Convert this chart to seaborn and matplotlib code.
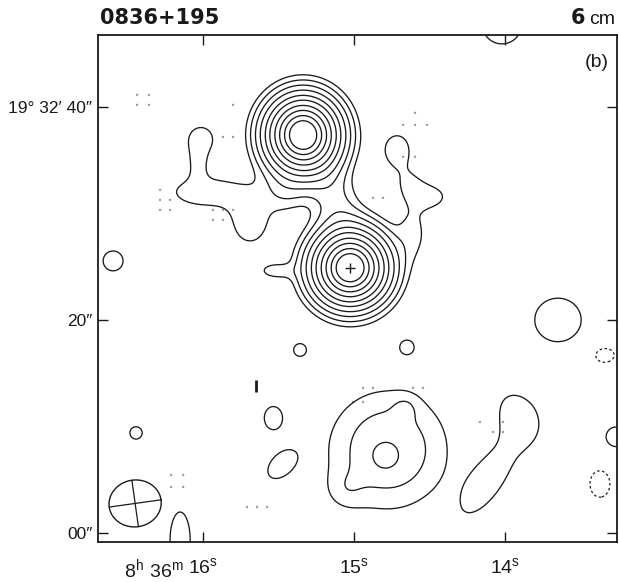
import numpy as np
import matplotlib
matplotlib.use("Agg")
import matplotlib.pyplot as plt
import seaborn as sns

# --- 6 cm map of 0836+195: Gaussian source components (RA s, Dec arcsec) ---
comp_ra = [15.338, 15.026, 15.132,
           16.013, 16.033, 15.987, 15.689, 15.457,
           14.715, 14.629, 14.483, 14.609, 15.523,
           16.596, 16.444, 15.536, 15.483,
           14.775, 14.795, 14.662, 15.060,
           13.914, 14.099, 13.649, 13.344, 13.265, 13.371,
           14.020, 16.152, 15.358, 14.649]
comp_dec = [37.37, 24.88, 31.27,
            37.00, 34.84, 32.00, 29.20, 32.00,
            35.96, 32.68, 31.55, 28.26, 24.60,
            25.54, 9.39, 10.80, 6.38,
            7.79, 7.14, 11.74, 4.04,
            11.08, 5.16, 20.00, 16.71, 9.01, 4.60,
            47.75, -0.66, 17.18, 17.46]
comp_amp = [100.0, 100.0, 5.5,
            4.0, 3.2, 4.0, 4.0, 3.5,
            3.8, 2.5, 3.3, 3.3, 3.5,
            4.0, 4.0, 4.0, 4.0,
            7.35, 3.0, 2.0, 2.0,
            3.6, 3.7, 4.0, -4.0, 4.0, -4.0,
            4.0, 4.0, 3.8, 3.8]
comp_sx = [2.00, 2.05, 3.0,
           1.15, 0.70, 3.0, 1.6, 1.4,
           1.3, 1.2, 1.4, 1.1, 1.2,
           1.05, 0.65, 0.9, 1.6,
           3.9, 1.0, 0.8, 1.3,
           2.3, 4.0, 2.45, 1.15, 1.05, 1.05,
           2.07, 1.06, 0.7, 0.7]
comp_sy = [2.10, 2.05, 1.5,
           1.15, 1.2, 1.3, 2.0, 1.4,
           1.6, 1.2, 1.0, 2.0, 0.6,
           1.05, 0.65, 1.15, 1.0,
           3.9, 1.0, 0.8, 1.3,
           1.6, 1.5, 2.3, 0.85, 1.05, 1.4,
           2.07, 2.96, 0.7, 0.7]
comp_pa = [0, 0, -70.5,
           0, 0, 0, 0, 0,
           0, 0, 0, 0, 0,
           0, 0, 0, 45,
           0, 0, 0, 0,
           -60, 57, 0, 0, 0, 0,
           0, 0, 0, 0]

# contour levels (mJy/beam)
pos_levels = [2.7, 4.9, 8.4, 13.5, 21, 30, 42, 55, 69, 82]
neg_levels = [-2.7]

# restoring beam (arcsec, deg) and its position
beam_ra, beam_dec = 16.450, 2.77
beam_major, beam_minor, beam_pa = 2.45, 2.2, 8.0

# grid-point markers of the map
dot_ra = [16.437, 16.358, 16.437, 16.358, 15.801, 15.868, 15.801,
          16.285, 16.285, 16.219, 16.285, 16.219, 15.934, 15.868, 15.801,
          15.934, 15.868, 14.596, 14.675, 14.596, 14.517, 14.675, 14.596,
          14.874, 14.808, 14.940, 14.874, 14.609, 14.543, 15.007, 14.940,
          14.166, 14.013, 14.079, 14.013, 16.212, 16.132, 16.212, 16.132,
          15.709, 15.642, 15.576]
dot_dec = [41.13, 41.13, 40.19, 40.19, 40.19, 37.18, 37.18,
           32.21, 31.27, 31.27, 30.33, 30.33, 30.33, 30.33, 30.33,
           29.39, 29.39, 39.44, 38.31, 38.31, 38.31, 35.31, 35.31,
           31.46, 31.46, 13.62, 13.62, 13.62, 13.62, 12.30, 12.30,
           10.42, 10.42, 9.48, 9.48, 5.45, 5.45, 4.32, 4.32,
           2.44, 2.44, 2.44]

ra_ticks = [16, 15, 14]
ra_labels = [r"$16^{s}$", r"$15^{s}$", r"$14^{s}$"]
dec_ticks = [0, 20, 40]
dec_labels = ["00\u2033", "20\u2033", "19\u00b0 32\u2032 40\u2033"]

ARCSEC_PER_SEC = 14.14  # RA seconds -> arcsec at this declination
INK = "#1a1a1a"

sns.set_theme(style="ticks")
plt.rcParams["font.family"] = ["Liberation Sans", "DejaVu Sans"]
plt.rcParams["mathtext.fontset"] = "custom"
plt.rcParams["mathtext.rm"] = "Liberation Sans"
plt.rcParams["mathtext.default"] = "rm"

fig = plt.figure(figsize=(6.19, 5.82), dpi=100)
ax = fig.add_axes([98 / 619, 1 - 542 / 582, 519 / 619, 507 / 582])

xg = np.linspace(13.1, 16.8, 600)
yg = np.linspace(-3.0, 50.0, 640)
X, Y = np.meshgrid(xg, yg)
F = np.zeros_like(X)
for ra, dec, a, sx, sy, pa in zip(comp_ra, comp_dec, comp_amp, comp_sx, comp_sy, comp_pa):
    ex = (ra - X) * ARCSEC_PER_SEC
    ey = Y - dec
    t = np.deg2rad(pa)
    u = ex * np.cos(t) + ey * np.sin(t)
    v = -ex * np.sin(t) + ey * np.cos(t)
    F += a * np.exp(-0.5 * ((u / sx) ** 2 + (v / sy) ** 2))

ax.contour(X, Y, F, levels=pos_levels, colors=INK, linewidths=0.95,
           linestyles="solid")
ax.contour(X, Y, F, levels=neg_levels, colors=INK, linewidths=0.9,
           linestyles=[(0, (2, 2))])

sns.scatterplot(x=dot_ra, y=dot_dec, ax=ax, s=3, color="#9a9a9a",
                edgecolor="none", legend=False)

# beam ellipse with its axes
tt = np.linspace(0, 2 * np.pi, 200)
bt = np.deg2rad(beam_pa)
bu = beam_major * np.cos(tt)
bv = beam_minor * np.sin(tt)
bex = bu * np.cos(bt) - bv * np.sin(bt)
bey = bu * np.sin(bt) + bv * np.cos(bt)
ax.plot(beam_ra - bex / ARCSEC_PER_SEC, beam_dec + bey, color=INK, lw=1.0)
for ang, half in ((bt, beam_major), (bt + np.pi / 2, beam_minor)):
    dx, dy = half * np.cos(ang), half * np.sin(ang)
    ax.plot([beam_ra - dx / ARCSEC_PER_SEC, beam_ra + dx / ARCSEC_PER_SEC],
            [beam_dec + dy, beam_dec - dy], color=INK, lw=0.9)

# peak marker of the southern component
ax.plot([comp_ra[1]], [comp_dec[1]], marker="+", color=INK, ms=7, mew=1.0)
ax.vlines([15.649], [13.24], [14.37], color=INK, lw=2.0)

ax.set_xlim(16.696, 13.258)
ax.set_ylim(-0.85, 46.75)
ax.set_xticks(ra_ticks)
ax.set_xticklabels(ra_labels, fontsize=14)
ax.set_yticks(dec_ticks)
ax.set_yticklabels(dec_labels, fontsize=12.5)
ax.tick_params(direction="in", top=True, right=True, length=7, width=1.0,
               colors=INK)
ax.tick_params(axis="x", pad=11)
ax.tick_params(axis="y", pad=4)
for sp in ax.spines.values():
    sp.set_linewidth(1.3)
    sp.set_color(INK)
ax.set_xlabel("")
ax.set_ylabel("")

ax.annotate(r"$8^{h}\ 36^{m}$", xy=(16, 0), xycoords=("data", "axes fraction"),
            xytext=(-13.5, -11), textcoords="offset points", ha="right", va="top",
            fontsize=14, color=INK)

fig.text(100 / 619, 1 - 18 / 582, "0836+195", fontsize=15, fontweight="bold",
         family=["DejaVu Sans"], ha="left", va="center", color=INK)
fig.text(585 / 619, 1 - 18 / 582, "6", fontsize=15, fontweight="bold",
         family=["DejaVu Sans"], ha="right", va="center", color=INK)
fig.text(615 / 619, 1 - 19 / 582, "cm", fontsize=14, ha="right", va="center",
         color=INK)
ax.text(0.985, 0.945, "(b)", transform=ax.transAxes, fontsize=14,
        ha="right", va="center", color=INK)

fig.savefig("out.png", dpi=100, facecolor="white")
